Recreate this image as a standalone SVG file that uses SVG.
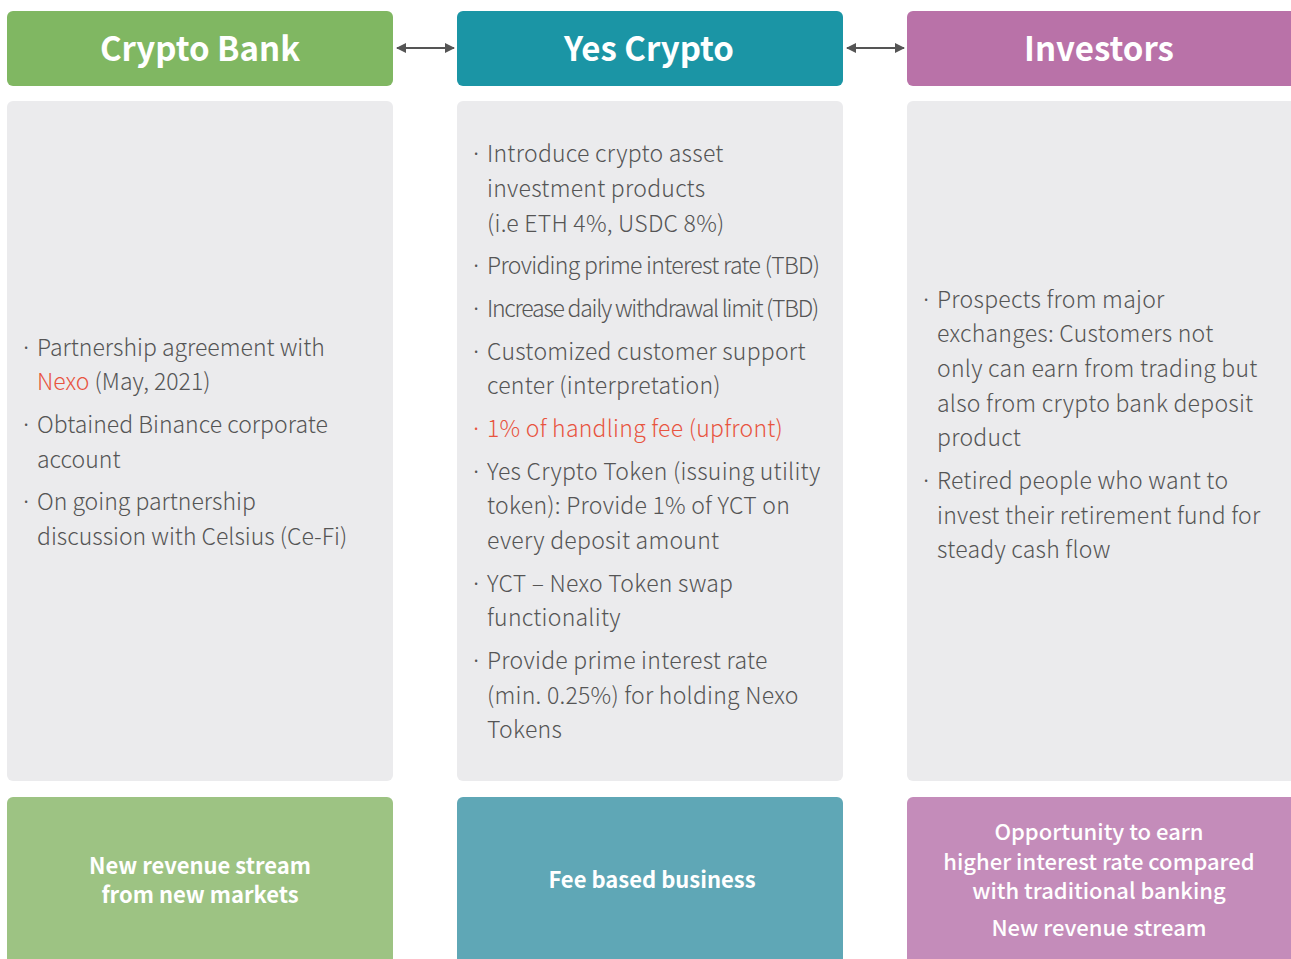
<svg xmlns="http://www.w3.org/2000/svg" width="1291" height="959" viewBox="0 0 1291 959">
<defs>
<style>
.hd{font-family:"Noto Sans CJK KR","Noto Sans",sans-serif;font-weight:700;font-size:33px;fill:#fff;text-anchor:middle}
.bt{font-family:"Noto Sans CJK KR","Noto Sans",sans-serif;font-weight:300;font-size:23px;fill:#555}
.ws{letter-spacing:0.25px}
.red{fill:#e8543f}
.ft{font-family:"Noto Sans CJK KR","Noto Sans",sans-serif;font-weight:700;font-size:22px;fill:#fff;text-anchor:middle}
.ft2{font-family:"Noto Sans CJK KR","Noto Sans",sans-serif;font-weight:500;font-size:22px;fill:#fff;text-anchor:middle}
.gray{fill:#ebebed}
.cn{stroke:#555;stroke-width:2;fill:none;marker-start:url(#ah);marker-end:url(#ah)}
</style>
<marker id="ah" viewBox="0 0 10 10" refX="9" refY="5" markerWidth="5" markerHeight="5" orient="auto-start-reverse"><path d="M0,0 L10,5 L0,10 z" fill="#555"/></marker>
</defs>
<rect width="1291" height="959" fill="#fff"/>
<g id="crypto-bank">
<rect x="7" y="11" width="386" height="75" rx="6" fill="#80b762"/>
<text class="hd" x="200" y="61">Crypto Bank</text>
</g>
<g id="yes-crypto">
<rect x="457" y="11" width="386" height="75" rx="6" fill="#1b95a5"/>
<text class="hd" x="649" y="61">Yes Crypto</text>
</g>
<g id="investors">
<rect x="907" y="11" width="390" height="75" rx="6" fill="#b972a8"/>
<text class="hd" x="1099" y="61">Investors</text>
</g>
<g id="connectors">
<line class="cn" x1="397" y1="48" x2="454" y2="48"/>
<line class="cn" x1="847" y1="48" x2="904" y2="48"/>
</g>
<g id="bank-details">
<rect class="gray" x="7" y="101" width="386" height="680" rx="6"/>
<text class="bt"><tspan x="20" y="356">·</tspan><tspan x="37" y="356">Partnership agreement with</tspan><tspan x="37" y="390" class="red">Nexo</tspan><tspan> (May, 2021)</tspan>
<tspan x="20" y="433">·</tspan><tspan x="37" y="433">Obtained Binance corporate</tspan><tspan x="37" y="468">account</tspan>
<tspan x="20" y="510">·</tspan><tspan x="37" y="510">On going partnership</tspan><tspan x="37" y="545">discussion with Celsius (Ce-Fi)</tspan></text>
</g>
<g id="yes-details">
<rect class="gray" x="457" y="101" width="386" height="680" rx="6"/>
<text class="bt"><tspan x="470" y="162">·</tspan><tspan class="ws" x="487" y="162">Introduce crypto asset</tspan><tspan class="ws" x="487" y="197">investment products</tspan><tspan class="ws" x="487" y="232">(i.e ETH 4%, USDC 8%)</tspan>
<tspan x="470" y="274">·</tspan><tspan x="487" y="274" letter-spacing="-0.7">Providing prime interest rate (TBD)</tspan>
<tspan x="470" y="317">·</tspan><tspan x="487" y="317" letter-spacing="-1.25">Increase daily withdrawal limit (TBD)</tspan>
<tspan x="470" y="360">·</tspan><tspan class="ws" x="487" y="360">Customized customer support</tspan><tspan class="ws" x="487" y="394">center (interpretation)</tspan>
<tspan x="470" y="437" class="red">·</tspan><tspan x="487" y="437" class="red ws">1% of handling fee (upfront)</tspan>
<tspan x="470" y="480">·</tspan><tspan class="ws" x="487" y="480">Yes Crypto Token (issuing utility</tspan><tspan class="ws" x="487" y="514">token): Provide 1% of YCT on</tspan><tspan class="ws" x="487" y="549">every deposit amount</tspan>
<tspan x="470" y="592">·</tspan><tspan class="ws" x="487" y="592">YCT – Nexo Token swap</tspan><tspan class="ws" x="487" y="626">functionality</tspan>
<tspan x="470" y="669">·</tspan><tspan class="ws" x="487" y="669">Provide prime interest rate</tspan><tspan class="ws" x="487" y="704">(min. 0.25%) for holding Nexo</tspan><tspan class="ws" x="487" y="738">Tokens</tspan></text>
</g>
<g id="investor-details">
<rect class="gray" x="907" y="101" width="390" height="680" rx="6"/>
<text class="bt ws"><tspan x="920" y="308">·</tspan><tspan x="937" y="308">Prospects from major</tspan><tspan x="937" y="342">exchanges: Customers not</tspan><tspan x="937" y="377">only can earn from trading but</tspan><tspan x="937" y="412">also from crypto bank deposit</tspan><tspan x="937" y="446">product</tspan>
<tspan x="920" y="489">·</tspan><tspan x="937" y="489">Retired people who want to</tspan><tspan x="937" y="524">invest their retirement fund for</tspan><tspan x="937" y="558">steady cash flow</tspan></text>
</g>
<g id="bank-outcome">
<rect x="7" y="797" width="386" height="175" rx="6" fill="#9dc383"/>
<text class="ft"><tspan x="200" y="874">New revenue stream</tspan><tspan x="200" y="903">from new markets</tspan></text>
</g>
<g id="yes-outcome">
<rect x="457" y="797" width="386" height="175" rx="6" fill="#5fa7b6"/>
<text class="ft" x="652" y="888">Fee based business</text>
</g>
<g id="investor-outcome">
<rect x="907" y="797" width="390" height="175" rx="6" fill="#c48cba"/>
<text class="ft2"><tspan x="1099" y="840">Opportunity to earn</tspan><tspan x="1099" y="870">higher interest rate compared</tspan><tspan x="1099" y="899">with traditional banking</tspan><tspan x="1099" y="936">New revenue stream</tspan></text>
</g>
</svg>
